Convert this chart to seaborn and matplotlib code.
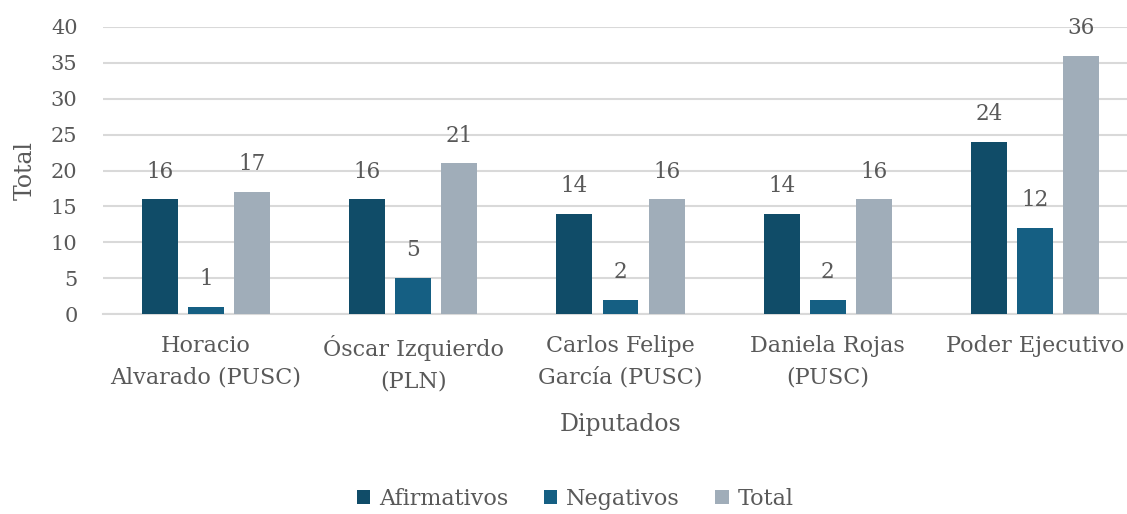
import matplotlib
matplotlib.use("Agg")
import matplotlib.pyplot as plt
import seaborn as sns
import pandas as pd
from matplotlib.patches import Patch

categories = ["Horacio\nAlvarado (PUSC)", "Óscar Izquierdo\n(PLN)", "Carlos Felipe\nGarcía (PUSC)",
              "Daniela Rojas\n(PUSC)", "Poder Ejecutivo"]
afirmativos = [16, 16, 14, 14, 24]
negativos = [1, 5, 2, 2, 12]
total = [17, 21, 16, 16, 36]
series_names = ["Afirmativos", "Negativos", "Total"]
colors = ["#104c68", "#155f83", "#a0adb9"]

rows = []
for name, vals in zip(series_names, [afirmativos, negativos, total]):
    for c, v in zip(categories, vals):
        rows.append({"Diputados": c, "Serie": name, "Valor": v})
df = pd.DataFrame(rows)

sns.set_theme(style="white")
plt.rcParams['font.family'] = ['DejaVu Serif']
text_color = "#595959"

fig = plt.figure(figsize=(11.27, 5.14), dpi=100)
W, H = 1127, 514
left, right, top, bottom = 102.5, 1138.5, 27, 314
ax = fig.add_axes([left / W, (H - bottom) / H, (right - left) / W, (bottom - top) / H])

sns.barplot(data=df, x="Diputados", y="Valor", hue="Serie", hue_order=series_names,
            palette=colors, saturation=1, width=0.667, gap=0.22, ax=ax, legend=False,
            edgecolor="none", linewidth=0, zorder=3)

for cont in ax.containers:
    ax.bar_label(cont, padding=12, fontsize=15.5, color=text_color)

ax.set_ylim(0, 40)
ax.set_xlim(-0.5, 4.5)
ax.set_yticks(range(0, 41, 5))
ax.yaxis.grid(True, color="#d9d9d9", linewidth=1.5, zorder=0)
ax.set_axisbelow(True)
for s in ["top", "right", "left"]:
    ax.spines[s].set_visible(False)
ax.spines["bottom"].set_color("#d9d9d9")
ax.spines["bottom"].set_linewidth(1.5)
ax.tick_params(axis="y", length=0, labelsize=15, colors=text_color, pad=18)
ax.tick_params(axis="x", length=0, labelsize=16, colors=text_color, pad=15)
ax.set_ylabel("Total", fontsize=17, color=text_color, labelpad=10)
ax.set_xlabel("Diputados", fontsize=17, color=text_color, labelpad=15)
for lab in ax.get_xticklabels():
    lab.set_linespacing(1.56)

handles = [Patch(facecolor=c, edgecolor="none") for c in colors]
fig.legend(handles, series_names, loc="center", bbox_to_anchor=(575 / W, 1 - 499 / H),
           ncol=3, frameon=False, fontsize=16, labelcolor=text_color,
           handlelength=0.6, handleheight=0.6, handletextpad=0.4, columnspacing=1.6)

fig.savefig("out.png", dpi=100)
